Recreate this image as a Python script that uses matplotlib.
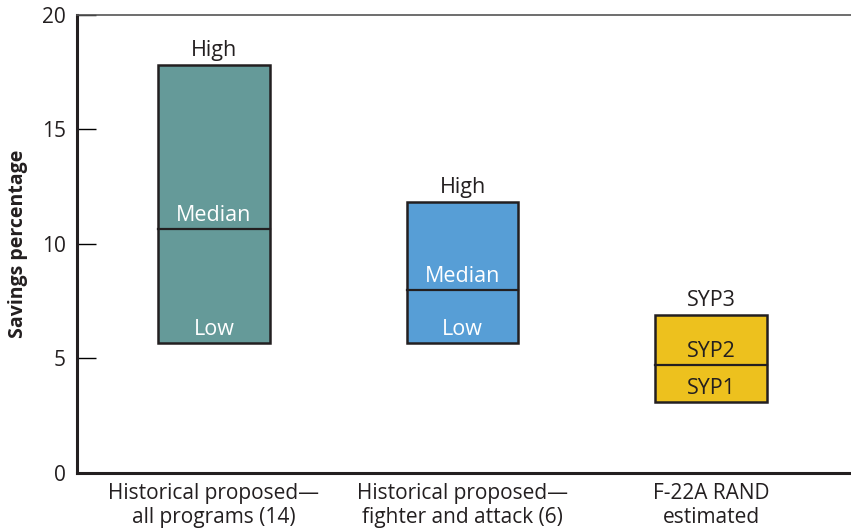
import matplotlib
matplotlib.use("Agg")
import matplotlib.pyplot as plt

# Savings percentage ranges
categories = ["Historical proposed\u2014\nall programs (14)",
              "Historical proposed\u2014\nfighter and attack (6)",
              "F-22A RAND\nestimated"]
lows = [5.68, 5.68, 3.1]
mids = [10.66, 7.99, 4.72]
highs = [17.8, 11.83, 6.9]
top_labels = ["High", "High", "SYP3"]
mid_labels = ["Median", "Median", "SYP2"]
low_labels = ["Low", "Low", "SYP1"]
colors = ["#659a99", "#579ed6", "#edc11e"]
text_colors = ["white", "white", "#231f20"]

plt.rcParams['font.family'] = ['Open Sans', 'DejaVu Sans']

fig = plt.figure(figsize=(8.51, 5.32), dpi=100)
ax = fig.add_axes([0.0905, 0.111, 0.9095, 0.861])

x = list(range(len(categories)))
width = 0.45
ax.bar(x, [h - l for h, l in zip(highs, lows)], bottom=lows, width=width,
       color=colors, edgecolor="#231f20", linewidth=1.8, zorder=2)
for i in x:
    ax.plot([i - width / 2, i + width / 2], [mids[i], mids[i]],
            color="#231f20", linewidth=1.6, zorder=3)
    ax.annotate(top_labels[i], (i, highs[i]), xytext=(0, 10.5),
                textcoords="offset points", ha="center", va="center",
                fontsize=15.5, color="#231f20")
    ax.annotate(mid_labels[i], (i, mids[i]), xytext=(0, 9.5),
                textcoords="offset points", ha="center", va="center",
                fontsize=15.5, color=text_colors[i])
    ax.annotate(low_labels[i], (i, lows[i]), xytext=(0, 9.5),
                textcoords="offset points", ha="center", va="center",
                fontsize=15.5, color=text_colors[i])

ax.set_xlim(-0.551, 2.563)
ax.set_ylim(0, 20)
ax.set_yticks([0, 5, 10, 15, 20])
ax.set_xticks(x)
ax.set_xticklabels(categories, fontsize=15, color="#231f20", linespacing=1.2)
ax.tick_params(axis="x", length=0, pad=7)
ax.tick_params(axis="y", direction="in", length=14, width=1.0,
               labelsize=15, labelcolor="#231f20", pad=8)
ax.set_ylabel("Savings percentage", fontsize=14, fontweight="bold",
              color="#231f20", labelpad=10)

ax.spines["right"].set_visible(False)
ax.spines["left"].set_linewidth(2.2)
ax.spines["bottom"].set_linewidth(2.2)
ax.spines["left"].set_color("#231f20")
ax.spines["bottom"].set_color("#231f20")
ax.spines["top"].set_linewidth(1.2)
ax.spines["top"].set_color("#555555")

fig.savefig("out.png", dpi=100)
